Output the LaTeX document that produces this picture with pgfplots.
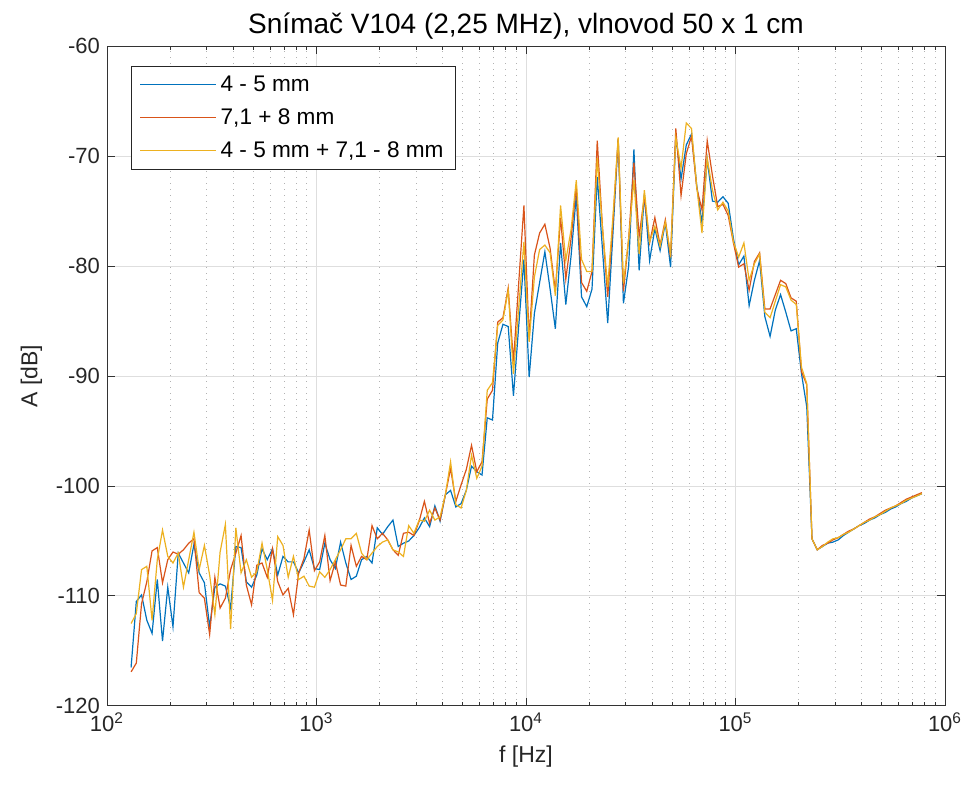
\documentclass[border=0pt]{standalone}
\usepackage{fontspec}
\setmainfont{Liberation Sans}
\usepackage{pgfplots}
\usepackage{pgfplotstable}
\pgfplotsset{compat=1.18}

\definecolor{mblue}{rgb}{0,0.447,0.741}
\definecolor{mred}{rgb}{0.850,0.325,0.098}
\definecolor{myel}{rgb}{0.929,0.694,0.125}

% f [Hz], 4-5 mm, 7,1+8 mm, both
\pgfplotstableread{
f b r y
130.3 -116.5 -116.9 -112.5
138.0 -110.5 -116.1 -111.6
146.2 -109.9 -110.7 -107.6
154.9 -112.2 -108.7 -107.3
164.1 -113.4 -105.9 -112.2
173.8 -108.5 -105.6 -106.7
184.1 -114.1 -108.8 -104.0
195.0 -109.2 -106.7 -106.4
206.5 -112.8 -106.0 -107.0
218.8 -106.1 -106.2 -106.1
231.7 -107.0 -105.8 -109.2
245.5 -107.9 -105.2 -106.7
260.0 -105.3 -104.8 -104.2
275.4 -107.9 -109.7 -107.6
291.7 -108.8 -110.2 -105.4
309.0 -112.8 -113.5 -108.1
327.3 -109.2 -108.3 -111.7
346.7 -108.9 -111.1 -106.0
367.3 -109.1 -110.2 -103.5
389.1 -111.1 -107.6 -113.0
412.1 -105.5 -106.1 -103.8
436.5 -105.6 -104.5 -107.9
462.4 -108.7 -109.0 -106.7
489.8 -109.2 -110.8 -108.3
518.8 -108.1 -107.2 -107.8
549.5 -105.7 -107.0 -105.2
582.1 -106.7 -108.3 -107.6
616.6 -105.7 -105.7 -110.4
653.1 -108.1 -108.7 -104.6
691.8 -106.4 -109.9 -105.4
732.8 -106.9 -109.3 -108.3
776.2 -106.9 -111.7 -106.4
822.2 -107.9 -107.9 -108.5
871.0 -106.9 -106.6 -108.2
922.6 -105.8 -104.0 -109.1
977.2 -107.5 -107.7 -109.2
1035 -107.6 -106.9 -107.8
1096 -105.2 -104.5 -108.3
1161 -106.7 -108.6 -107.6
1230 -107.5 -106.9 -106.7
1303 -105.1 -109.0 -105.8
1380 -107.0 -109.1 -104.8
1462 -108.5 -105.4 -104.8
1549 -108.2 -107.3 -104.3
1641 -106.7 -106.4 -106.1
1738 -106.4 -106.7 -106.7
1841 -107.0 -103.6 -106.1
1950 -103.8 -104.8 -105.5
2065 -104.4 -104.3 -105.1
2188 -103.7 -104.9 -104.9
2317 -103.1 -105.8 -105.8
2455 -105.5 -106.3 -106.0
2600 -105.2 -104.3 -106.4
2754 -105.0 -104.2 -103.6
2917 -104.5 -104.5 -104.3
3090 -103.8 -103.2 -103.1
3273 -102.9 -101.4 -103.2
3467 -103.7 -103.4 -102.2
3673 -101.8 -102.0 -103.1
3890 -103.2 -103.1 -102.8
4121 -100.8 -100.8 -100.8
4365 -100.4 -98.4 -97.8
4624 -101.9 -101.4 -101.7
4898 -101.6 -99.9 -102.0
5188 -100.4 -98.5 -100.4
5495 -98.2 -96.3 -97.2
5821 -98.7 -98.7 -99.3
6166 -99.0 -97.8 -98.2
6531 -93.8 -92.1 -91.3
6918 -94.0 -91.3 -90.6
7328 -87.0 -85.1 -85.4
7762 -85.3 -84.7 -84.9
8222 -85.5 -82.0 -82.2
8710 -91.8 -88.7 -89.8
9226 -85.5 -81.6 -83.8
9772 -79.4 -74.5 -77.8
10351 -90.1 -86.6 -86.9
10965 -84.3 -79.0 -81.0
11614 -81.5 -77.0 -78.5
12303 -78.7 -76.2 -78.1
13032 -82.1 -78.4 -78.8
13804 -85.7 -82.3 -82.7
14622 -77.9 -75.6 -74.5
15488 -83.5 -81.2 -79.5
16406 -79.1 -77.5 -76.7
17378 -73.6 -72.7 -72.2
18408 -82.8 -81.5 -79.4
19498 -83.7 -82.3 -80.5
20654 -82.1 -80.5 -80.5
21878 -71.9 -68.6 -70.2
23174 -78.5 -76.5 -76.5
24547 -85.2 -82.8 -81.9
26002 -77.0 -76.0 -75.5
27542 -68.5 -68.4 -68.3
29174 -83.4 -82.3 -81.6
30903 -80.0 -77.5 -77.5
32734 -69.4 -70.6 -72.2
34674 -80.4 -77.3 -78.9
36728 -73.5 -73.7 -73.1
38905 -79.5 -77.9 -77.8
41210 -76.6 -75.6 -76.4
43652 -78.6 -78.1 -78.2
46238 -76.1 -75.8 -76.0
48978 -80.1 -79.2 -78.9
51880 -68.2 -67.5 -68.3
54954 -72.1 -73.6 -71.1
58210 -69.0 -69.8 -67.0
61660 -68.0 -68.2 -67.5
65313 -72.7 -72.9 -72.8
69183 -76.1 -74.9 -77.0
73282 -70.3 -68.6 -70.2
77625 -74.1 -71.8 -73.1
82224 -74.2 -74.6 -74.9
87096 -73.7 -74.4 -74.2
92257 -74.3 -75.4 -75.0
97724 -77.5 -77.9 -77.8
103510 -79.9 -80.1 -79.2
109650 -79.1 -79.8 -77.9
116140 -83.6 -82.2 -81.3
123030 -81.3 -79.6 -79.8
130320 -79.5 -78.8 -78.9
138040 -84.6 -83.9 -84.2
146220 -86.4 -83.9 -84.7
154880 -84.0 -82.6 -83.2
164060 -82.6 -81.3 -81.7
173780 -84.2 -81.6 -81.9
184080 -85.9 -82.9 -83.1
194980 -85.7 -83.2 -83.5
206540 -89.8 -89.6 -89.2
218780 -92.8 -90.8 -90.7
231740 -104.8 -104.8 -104.8
245470 -105.8 -105.8 -105.8
260020 -105.5 -105.4 -105.5
275420 -105.2 -105.2 -105.1
291740 -105.1 -104.9 -104.8
309030 -104.9 -104.7 -104.7
327340 -104.5 -104.4 -104.4
346740 -104.2 -104.1 -104.2
367280 -103.9 -103.9 -103.9
389050 -103.6 -103.6 -103.6
412100 -103.4 -103.3 -103.3
436520 -103.1 -103.0 -103.1
462380 -102.9 -102.8 -102.8
489780 -102.6 -102.5 -102.6
518800 -102.4 -102.2 -102.3
549540 -102.1 -102.0 -102.0
582100 -101.9 -101.8 -101.8
616600 -101.6 -101.5 -101.6
653130 -101.4 -101.2 -101.3
691830 -101.1 -101.0 -101.1
732820 -100.9 -100.8 -100.9
776250 -100.7 -100.6 -100.7
}\spectra

\begin{document}
\begin{tikzpicture}
\begin{semilogxaxis}[
    scale only axis,
    width=419pt, height=330pt,
    xmin=100, xmax=1000000,
    ymin=-120, ymax=-60,
    xtick={100,1000,10000,100000,1000000},
    xticklabels={10\textsuperscript{2},10\textsuperscript{3},10\textsuperscript{4},10\textsuperscript{5},10\textsuperscript{6}},
    ytick={-120,-110,-100,-90,-80,-70,-60},
    /pgf/number format/assume math mode=true,
    yticklabel style={/pgf/number format/fixed},
    ticklabel style={font=\fontsize{11}{13}\selectfont, text=black!85},
    xlabel={f [Hz]}, ylabel={A [dB]},
    label style={font=\fontsize{11.5}{14}\selectfont, text=black!85},
    title={Snímač V104 (2,25 MHz), vlnovod 50 x 1 cm},
    title style={font=\fontsize{14}{16}\selectfont, yshift=-6pt},
    axis line style={black!80, line width=0.5pt},
    tick style={black!80, line width=0.5pt},
    tick align=inside,
    major tick length=4pt, minor tick length=2.2pt,
    xmajorgrids, ymajorgrids, xminorgrids,
    major grid style={black!13, line width=0.5pt},
    minor grid style={black!30, line width=0.5pt, dash pattern=on 0.7pt off 2.3pt},
    every axis plot/.append style={line width=0.6pt},
    legend image code/.code={\draw[#1] (0pt,0pt) -- (38pt,0pt);},
    legend cell align=left,
    legend style={at={(0.0286,0.9697)}, anchor=north west,
        draw=black!85, fill=white, line width=0.5pt,
        font=\fontsize{11.3}{14}\selectfont,
        inner xsep=4pt, inner ysep=2.5pt,
        row sep=3.1pt},
]
\addplot[mblue] table[x=f, y=b] {\spectra};
\addlegendentry{4 - 5 mm}
\addplot[mred] table[x=f, y=r] {\spectra};
\addlegendentry{7,1 + 8 mm}
\addplot[myel] table[x=f, y=y] {\spectra};
\addlegendentry{4 - 5 mm + 7,1 - 8 mm}
\end{semilogxaxis}
\pgfresetboundingbox
\path[use as bounding box] (-53.5pt,-45pt) rectangle (433pt,353pt);
\end{tikzpicture}
\end{document}
